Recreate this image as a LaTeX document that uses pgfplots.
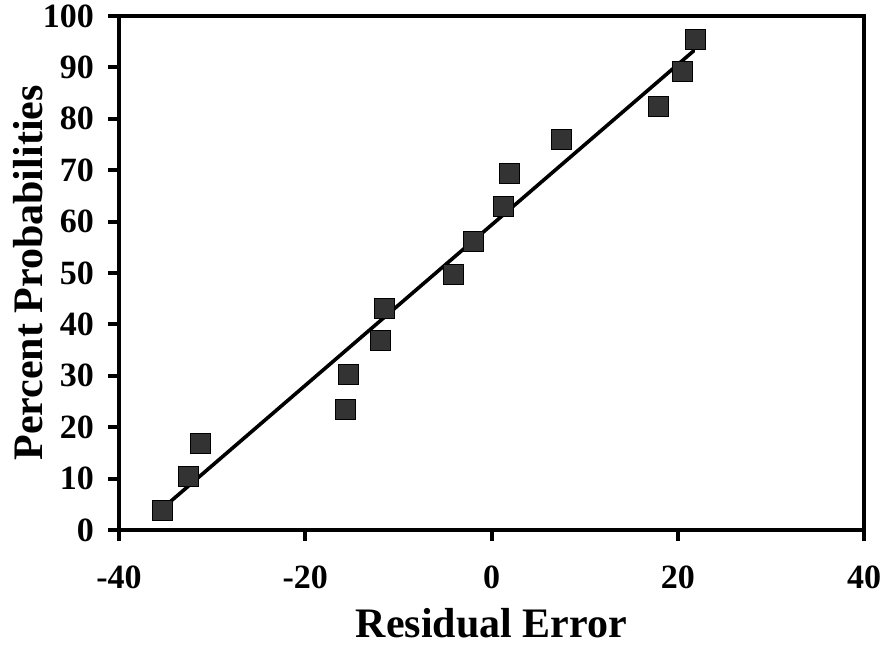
\documentclass[border=0pt]{standalone}
\usepackage{pgfplots}
\pgfplotsset{compat=1.18}
\usepackage{fontspec}
\setmainfont{Liberation Serif}
\definecolor{markgray}{RGB}{51,51,51}

\begin{document}
\begin{tikzpicture}
\begin{axis}[
  scale only axis,
  width=372.5pt, height=257pt,
  xmin=-40, xmax=40, ymin=0, ymax=100,
  xtick={-40,-20,0,20,40},
  ytick={0,10,20,30,40,50,60,70,80,90,100},
  axis line style={line width=2pt},
  every tick/.style={line width=2pt, black},
  tick align=outside,
  major tick length=5.5pt,
  xtick pos=bottom, ytick pos=left,
  /pgf/number format/assume math mode=true,
  ticklabel style={font=\fontsize{17}{17}\selectfont\bfseries},
  xticklabel style={yshift=-9pt},
  yticklabel style={xshift=-3.5pt},
  xlabel={Residual Error},
  ylabel={Percent Probabilities},
  label style={font=\fontsize{21}{21}\selectfont\bfseries},
  xlabel style={yshift=-3pt},
  ylabel style={yshift=-7pt},
  clip=false,
]
% normal probability points
\addplot[only marks, mark=square*, mark size=5pt,
  mark options={fill=markgray, draw=none}] coordinates {
  (-35.3, 3.9) (-32.5, 10.4) (-31.3, 16.8) (-15.7, 23.5) (-15.4, 30.3)
  (-11.9, 36.8) (-11.5, 43.2) (-4.1, 49.8) (-1.9, 56.2) (1.3, 62.9)
  (1.9, 69.3) (7.5, 76.0) (17.9, 82.5) (20.5, 89.2) (21.9, 95.5)
};
% fitted line
\addplot[black, line width=1.8pt, line cap=round] coordinates {
  (-35.3, 4.25) (21.7, 93.2)
};
\end{axis}
\pgfresetboundingbox
\useasboundingbox ([shift={(-59.5pt,-58pt)}]current axis.south west)
  rectangle ([shift={(9.5pt,8pt)}]current axis.north east);
\end{tikzpicture}
\end{document}
